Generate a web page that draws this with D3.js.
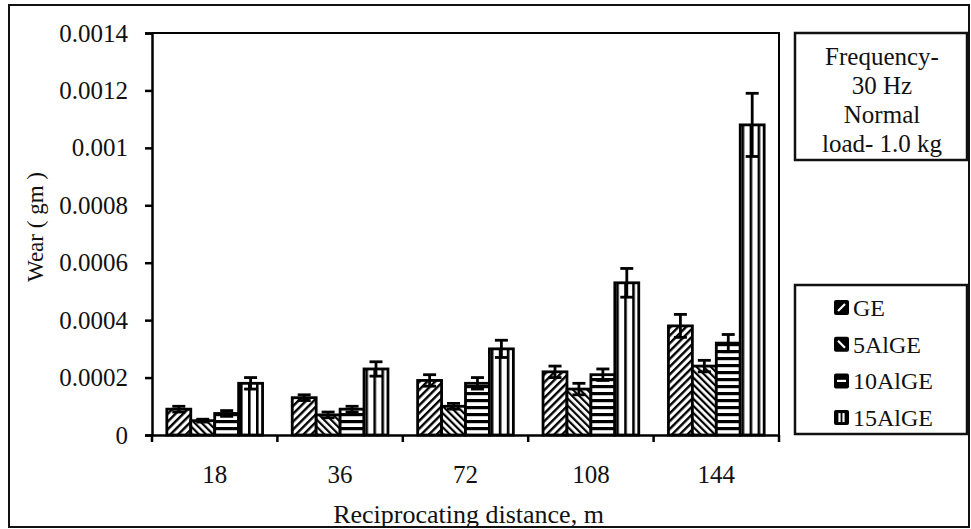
<!DOCTYPE html>
<html>
<head>
<meta charset="utf-8">
<script src="https://cdn.jsdelivr.net/npm/d3@7"></script>
<style>
  html, body { margin: 0; padding: 0; background: #fff; }
  svg { display: block; }
  text { font-family: "Liberation Serif", "Times New Roman", serif; fill: #111; }
</style>
</head>
<body>
<svg id="chart" width="971" height="529"></svg>
<script>
// ---- data ----
const categories = ["18", "36", "72", "108", "144"];
const seriesNames = ["GE", "5AlGE", "10AlGE", "15AlGE"];
const geValues     = [0.00009, 0.00013, 0.00019, 0.00022, 0.00038];
const geErrors     = [0.00001, 0.00001, 0.00002, 0.00002, 0.00004];
const al5Values    = [0.00005, 0.00007, 0.00010, 0.00016, 0.00024];
const al5Errors    = [0.000005, 0.00001, 0.00001, 0.00002, 0.00002];
const al10Values   = [0.000075, 0.00009, 0.00018, 0.00021, 0.00032];
const al10Errors   = [0.00001, 0.00001, 0.00002, 0.00002, 0.00003];
const al15Values   = [0.00018, 0.00023, 0.00030, 0.00053, 0.00108];
const al15Errors   = [0.00002, 0.000025, 0.00003, 0.00005, 0.00011];
const yTicks = [0, 0.0002, 0.0004, 0.0006, 0.0008, 0.001, 0.0012, 0.0014];
const xTitle = "Reciprocating distance, m";
const yTitle = "Wear ( gm )";
const noteLines = ["Frequency-", "30 Hz", "Normal", "load- 1.0 kg"];

const seriesValues = [geValues, al5Values, al10Values, al15Values];
const seriesErrors = [geErrors, al5Errors, al10Errors, al15Errors];

const svg = d3.select("#chart");

// ---- patterns ----
const defs = svg.append("defs");
function stripePattern(id, size, thick, angle) {
  const p = defs.append("pattern")
    .attr("id", id).attr("patternUnits", "userSpaceOnUse")
    .attr("width", size).attr("height", size)
    .attr("patternTransform", `rotate(${angle})`);
  p.append("rect").attr("width", size).attr("height", size).attr("fill", "#fff");
  p.append("rect").attr("x", 0).attr("y", 0).attr("width", thick).attr("height", size).attr("fill", "#000");
}
stripePattern("pGE", 5.5, 2.4, 45);
stripePattern("p5", 5, 2.2, -45);
stripePattern("p10", 7, 3.2, 90);
stripePattern("p15", 8, 2.6, 0);
const patternIds = ["pGE", "p5", "p10", "p15"];

// ---- layout ----
const pLeft = 152, pRight = 779, pTop = 33, pBottom = 435;

const x0 = d3.scaleBand().domain(categories).range([pLeft, pRight]).paddingInner(0).paddingOuter(0);
const x1 = d3.scaleBand().domain(seriesNames).range([0, x0.bandwidth()]).paddingInner(0).paddingOuter(0.62);
const y = d3.scaleLinear().domain([0, 0.0014]).range([pBottom, pTop]);

// outer border
svg.append("rect").attr("x", 9).attr("y", 5).attr("width", 960).attr("height", 522)
  .attr("fill", "none").attr("stroke", "#111").attr("stroke-width", 2);

// plot frame (top & right)
svg.append("path").attr("d", `M${pLeft},${pTop}H${pRight}V${pBottom}`)
  .attr("fill", "none").attr("stroke", "#000").attr("stroke-width", 2);

// bars
const groups = svg.append("g").selectAll("g").data(categories).join("g")
  .attr("transform", d => `translate(${x0(d)},0)`);

seriesNames.forEach((s, si) => {
  groups.append("rect")
    .attr("x", x1(s))
    .attr("y", (d, i) => y(seriesValues[si][i]))
    .attr("width", x1.bandwidth())
    .attr("height", (d, i) => y(0) - y(seriesValues[si][i]))
    .attr("fill", `url(#${patternIds[si]})`)
    .attr("stroke", "#000").attr("stroke-width", 2.8);
});

// error bars
seriesNames.forEach((s, si) => {
  const cx = x1(s) + x1.bandwidth() / 2;
  groups.each(function (d, i) {
    const v = seriesValues[si][i], e = seriesErrors[si][i];
    const g = d3.select(this);
    const yHi = y(v + e), yLo = y(v - e);
    g.append("line").attr("x1", cx).attr("x2", cx).attr("y1", yHi).attr("y2", yLo)
      .attr("stroke", "#000").attr("stroke-width", 2.8);
    [yHi, yLo].forEach(yy => g.append("line")
      .attr("x1", cx - 6.5).attr("x2", cx + 6.5).attr("y1", yy).attr("y2", yy)
      .attr("stroke", "#000").attr("stroke-width", 2.8));
  });
});

// y axis
const yAxis = d3.axisLeft(y).tickValues(yTicks).tickSize(7).tickPadding(17)
  .tickFormat(d => String(+d.toFixed(4)));
const gy = svg.append("g").attr("transform", `translate(${pLeft},0)`).call(yAxis);
gy.select(".domain").attr("stroke", "#000").attr("stroke-width", 2.5);
gy.selectAll(".tick line").attr("stroke", "#000").attr("stroke-width", 2.5);
gy.selectAll(".tick text").attr("font-family", "Liberation Serif, serif")
  .attr("font-size", 25).attr("fill", "#111");

// x axis
const xAxis = d3.axisBottom(x0).tickSize(0).tickPadding(0);
const gx = svg.append("g").attr("transform", `translate(0,${pBottom})`).call(xAxis);
gx.select(".domain").attr("stroke", "#000").attr("stroke-width", 2.5);
gx.selectAll(".tick text").attr("font-family", "Liberation Serif, serif")
  .attr("font-size", 25).attr("fill", "#111").attr("dy", 0).attr("y", 48);
// boundary tick marks
const bounds = categories.map(c => x0(c)).concat([pRight]);
gx.selectAll(".btick").data(bounds).join("line").attr("class", "btick")
  .attr("x1", d => d).attr("x2", d => d).attr("y1", 0).attr("y2", 7)
  .attr("stroke", "#000").attr("stroke-width", 2.5);

// axis titles
svg.append("text").attr("x", (pLeft + pRight) / 2 + 3).attr("y", 523)
  .attr("text-anchor", "middle").attr("font-size", 26).text(xTitle);
svg.append("text").attr("transform", "translate(43,227) rotate(-90)")
  .attr("text-anchor", "middle").attr("font-size", 23).text(yTitle);

// note box
svg.append("rect").attr("x", 795).attr("y", 33).attr("width", 172).attr("height", 127)
  .attr("fill", "#fff").attr("stroke", "#111").attr("stroke-width", 2.5);
svg.append("g").selectAll("text").data(noteLines).join("text")
  .attr("x", 882).attr("y", (d, i) => 65 + i * 29)
  .attr("text-anchor", "middle").attr("font-size", 25).text(d => d);

// legend box
svg.append("rect").attr("x", 795).attr("y", 285).attr("width", 172).attr("height", 149)
  .attr("fill", "#fff").attr("stroke", "#111").attr("stroke-width", 2.5);
const leg = svg.append("g").selectAll("g").data(seriesNames).join("g")
  .attr("transform", (d, i) => `translate(834,${300 + i * 36.7})`);
leg.append("rect").attr("width", 15).attr("height", 15).attr("rx", 2).attr("fill", "#000");
leg.each(function (d, i) {
  const g = d3.select(this);
  const w = c => g.append("path").attr("d", c).attr("stroke", "#fff").attr("stroke-width", 2.2).attr("fill", "none");
  if (i === 0) w("M4,11L11,4");
  if (i === 1) w("M4,4L11,11");
  if (i === 2) w("M3,7.5H12");
  if (i === 3) { w("M5.5,3V12"); w("M9.5,3V12"); }
});
leg.append("text").attr("x", 19).attr("y", 16).attr("font-size", 24).text(d => d);
</script>
</body>
</html>
